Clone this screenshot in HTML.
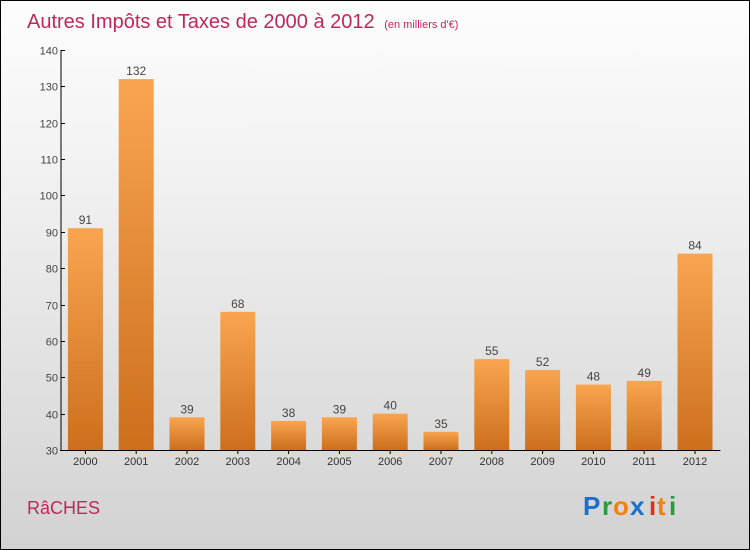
<!DOCTYPE html>
<html><head><meta charset="utf-8"><style>
body{margin:0}
#c{width:748px;height:548px;border:1px solid #000;background:linear-gradient(#fdfdfd,#f2f2f2 30%,#d2d2d2);position:relative;font-family:"Liberation Sans",sans-serif;overflow:hidden}
</style></head><body>
<div id="c">
<svg width="748" height="548">
<defs><linearGradient id="g" x1="0" y1="0" x2="0" y2="1"><stop offset="0" stop-color="#f9a550"/><stop offset="1" stop-color="#cc6f1c"/></linearGradient></defs>
<text x="26" y="27" font-size="20" fill="#c2275a">Autres Impôts et Taxes de 2000 à 2012 <tspan font-size="11" dx="4">(en milliers d'€)</tspan></text>
<g id="axes"></g><g id="bars"></g>
<text x="26" y="513" font-size="18" fill="#c2275a">RâCHES</text>
<g font-size="26" font-weight="bold" font-family="Liberation Sans, sans-serif">
<text x="582" y="514" fill="#1a6fd0">P</text><text x="601" y="514" fill="#2a9a3a">r</text><text x="612" y="514" fill="#f08010">o</text><text x="629" y="514" fill="#1a6fd0">x</text><text x="648" y="514" fill="#e03010">i</text><text x="656" y="514" fill="#f08010">t</text><text x="668" y="514" fill="#2a9a3a">i</text></g>
</svg></div>
<script>
const categories=["2000","2001","2002","2003","2004","2005","2006","2007","2008","2009","2010","2011","2012"];
const values=[91,132,39,68,38,39,40,35,55,52,48,49,84];
const ticks=[30,40,50,60,70,80,90,100,110,120,130,140];
const NS="http://www.w3.org/2000/svg";
const y0=449,y1=49,vmin=30,vmax=140,x0=59,band=50.8,bw=35;
const Y=v=>y0-(v-vmin)/(vmax-vmin)*(y0-y1);
const X=i=>x0+band*i+band/2;
function mk(t,a,p){const e=document.createElementNS(NS,t);for(const k in a)e.setAttribute(k,a[k]);p.appendChild(e);return e;}
const ax=document.getElementById('axes'),bs=document.getElementById('bars');
const yl=mk('line',{x1:x0+1,y1:y1,x2:x0+1,y2:y0,stroke:'#000'},ax);


const xl=mk('line',{x1:x0,y1:y0+.5,x2:x0+band*13,y2:y0+.5,stroke:'#000'},ax);


ticks.forEach(t=>{const y=Math.round(Y(t))+.5;
mk('line',{x1:x0+1,x2:x0+5,y1:y,y2:y,stroke:'#000'},ax);
const tx=mk('text',{x:x0-2,y:y+4,'font-size':11,fill:'#444','text-anchor':'end'},ax);tx.textContent=t;

});
categories.forEach((c,i)=>{const cx=X(i);
mk('line',{x1:cx,x2:cx,y1:y0,y2:y0+4,stroke:'#000'},ax);
const tl=mk('text',{x:cx,y:y0+15,'font-size':11,fill:'#333','text-anchor':'middle'},ax);tl.textContent=c;


const yt=Y(values[i]);
const r=mk('rect',{x:cx-bw/2,y:yt,width:bw,height:y0-yt,fill:'url(#g)'},bs);


const lb=mk('text',{x:cx,y:yt-4,'font-size':12,fill:'#444','text-anchor':'middle'},bs);lb.textContent=values[i];

});
</script>
</body></html>
